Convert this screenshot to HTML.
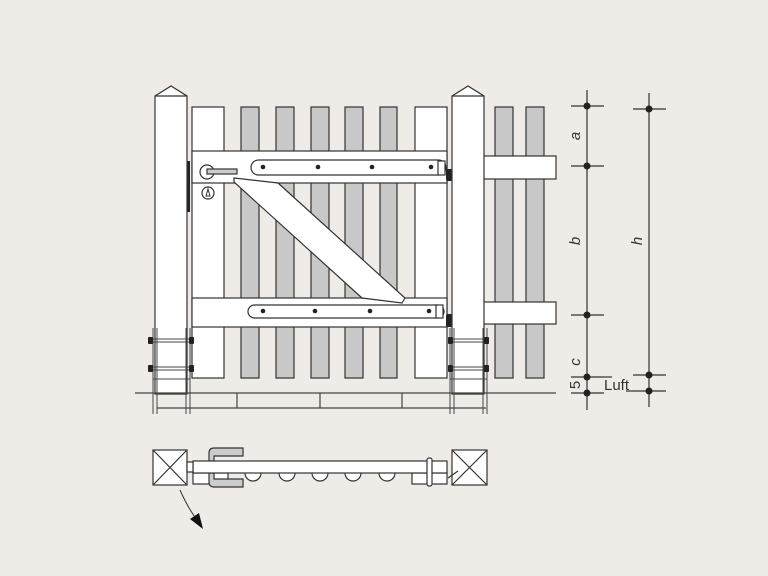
<!DOCTYPE html>
<html><head><meta charset="utf-8"><style>
html,body{margin:0;padding:0;background:#efece7;}
svg{display:block}
text{font-family:"Liberation Sans",sans-serif;fill:#333;}
</style></head><body>
<svg width="768" height="576" viewBox="0 0 768 576" xmlns="http://www.w3.org/2000/svg">
<rect width="768" height="576" fill="#efece7"/>
<g stroke="#333" stroke-width="1.2">
<!-- right fence pickets -->
<rect x="495" y="107" width="18" height="271" fill="#c8c8c8"/>
<rect x="526" y="107" width="18" height="271" fill="#c8c8c8"/>
<rect x="483" y="156" width="73" height="23" fill="#fff"/>
<rect x="483" y="302" width="73" height="22" fill="#fff"/>
<!-- gate pickets -->
<rect x="192" y="107" width="32" height="271" fill="#fff"/>
<rect x="241" y="107" width="18" height="271" fill="#c8c8c8"/>
<rect x="276" y="107" width="18" height="271" fill="#c8c8c8"/>
<rect x="311" y="107" width="18" height="271" fill="#c8c8c8"/>
<rect x="345" y="107" width="18" height="271" fill="#c8c8c8"/>
<rect x="380" y="107" width="17" height="271" fill="#c8c8c8"/>
<rect x="415" y="107" width="32" height="271" fill="#fff"/>
<!-- rails -->
<rect x="192" y="151" width="255" height="32" fill="#fff"/>
<rect x="192" y="298" width="255" height="29" fill="#fff"/>
<!-- brace -->
<polygon points="234,178 278,183 405,298 402,303 362,298 234,182" fill="#fff"/>
<!-- hinges -->
<rect x="251" y="160" width="195" height="15" rx="7.5" fill="#fff"/>
<rect x="248" y="305" width="196" height="13" rx="6.5" fill="#fff"/>
<rect x="438" y="161" width="7" height="14" fill="#fff"/>
<rect x="436" y="305" width="7" height="13" fill="#fff"/>
</g>
<g fill="#222">
<circle cx="263" cy="167" r="2.3"/><circle cx="318" cy="167" r="2.3"/><circle cx="372" cy="167" r="2.3"/><circle cx="431" cy="167" r="2.3"/>
<circle cx="263" cy="311" r="2.3"/><circle cx="315" cy="311" r="2.3"/><circle cx="370" cy="311" r="2.3"/><circle cx="429" cy="311" r="2.3"/>
<rect x="446" y="169" width="7" height="12" rx="2"/>
<rect x="446" y="314" width="7" height="13" rx="2"/>
<rect x="186" y="161" width="4" height="51"/>
</g>
<!-- handle -->
<g stroke="#333" stroke-width="1.2">
<circle cx="207" cy="172" r="7" fill="#fff"/>
<rect x="207" y="169" width="30" height="5" fill="#ccc"/>
<circle cx="208" cy="193" r="6" fill="#fff"/>
</g>
<path d="M206 196 L208 189 L210 196 Z" fill="none" stroke="#333"/>
<!-- posts -->
<g stroke="#333" stroke-width="1.2" fill="#fff">
<polygon points="155,96 171,86 187,96 187,394 155,394"/>
<polygon points="452,96 468,86 484,96 484,394 452,394"/>
<line x1="155" y1="96" x2="187" y2="96"/><line x1="452" y1="96" x2="484" y2="96"/>
</g>
<!-- post frames -->
<g stroke="#444" stroke-width="1" fill="none">
<line x1="153" y1="328" x2="153" y2="414"/><line x1="157" y1="328" x2="157" y2="414"/>
<line x1="186" y1="328" x2="186" y2="414"/><line x1="190" y1="328" x2="190" y2="414"/>
<line x1="450" y1="328" x2="450" y2="414"/><line x1="454" y1="328" x2="454" y2="414"/>
<line x1="483" y1="328" x2="483" y2="414"/><line x1="487" y1="328" x2="487" y2="414"/>
<line x1="151" y1="339" x2="192" y2="339"/><line x1="151" y1="342" x2="192" y2="342"/>
<line x1="151" y1="367" x2="192" y2="367"/><line x1="151" y1="370" x2="192" y2="370"/>
<line x1="153" y1="379" x2="190" y2="379"/>
<line x1="448" y1="339" x2="489" y2="339"/><line x1="448" y1="342" x2="489" y2="342"/>
<line x1="448" y1="367" x2="489" y2="367"/><line x1="448" y1="370" x2="489" y2="370"/>
<line x1="450" y1="379" x2="487" y2="379"/>
</g>
<g fill="#222">
<rect x="148" y="337" width="5" height="7" rx="1"/><rect x="189" y="337" width="5" height="7" rx="1"/>
<rect x="148" y="365" width="5" height="7" rx="1"/><rect x="189" y="365" width="5" height="7" rx="1"/>
<rect x="448" y="337" width="5" height="7" rx="1"/><rect x="484" y="337" width="5" height="7" rx="1"/>
<rect x="448" y="365" width="5" height="7" rx="1"/><rect x="484" y="365" width="5" height="7" rx="1"/>
</g>
<!-- ground -->
<g stroke="#444" stroke-width="1.2">
<line x1="135" y1="393" x2="556" y2="393"/>
<line x1="157" y1="408" x2="486" y2="408"/>
<line x1="237" y1="393" x2="237" y2="408"/><line x1="320" y1="393" x2="320" y2="408"/><line x1="402" y1="393" x2="402" y2="408"/>
</g>
<!-- dimensions -->
<g stroke="#333" stroke-width="1.2">
<line x1="587" y1="90" x2="587" y2="410"/>
<line x1="571" y1="106" x2="604" y2="106"/><line x1="571" y1="166" x2="604" y2="166"/>
<line x1="571" y1="315" x2="604" y2="315"/><line x1="571" y1="377" x2="604" y2="377"/><line x1="571" y1="393" x2="604" y2="393"/>
<line x1="649" y1="93" x2="649" y2="407"/>
<line x1="633" y1="109" x2="666" y2="109"/><line x1="633" y1="375" x2="666" y2="375"/><line x1="633" y1="391" x2="666" y2="391"/>
<line x1="604" y1="377" x2="612" y2="377"/><line x1="633" y1="391" x2="626" y2="391"/>
</g>
<g fill="#222">
<circle cx="587" cy="106" r="3.5"/><circle cx="587" cy="166" r="3.5"/><circle cx="587" cy="315" r="3.5"/><circle cx="587" cy="377" r="3.5"/><circle cx="587" cy="393" r="3.5"/>
<circle cx="649" cy="109" r="3.5"/><circle cx="649" cy="375" r="3.5"/><circle cx="649" cy="391" r="3.5"/>
</g>
<g font-size="15" font-style="italic">
<text transform="translate(580,136) rotate(-90)" text-anchor="middle">a</text>
<text transform="translate(580,241) rotate(-90)" text-anchor="middle">b</text>
<text transform="translate(580,362) rotate(-90)" text-anchor="middle">c</text>
<text transform="translate(642,241) rotate(-90)" text-anchor="middle">h</text>
</g>
<text transform="translate(580,385) rotate(-90)" text-anchor="middle" font-size="15">5</text>
<text x="604" y="390" font-size="15">Luft</text>
<!-- plan view -->
<g stroke="#333" stroke-width="1.2">
<rect x="153" y="450" width="34" height="35" fill="#fff"/>
<line x1="153" y1="450" x2="187" y2="485"/><line x1="187" y1="450" x2="153" y2="485"/>
<rect x="452" y="450" width="35" height="35" fill="#fff"/>
<line x1="452" y1="450" x2="487" y2="485"/><line x1="487" y1="450" x2="452" y2="485"/>
<path d="M245 473 a8 8 0 0 0 16 0 M279 473 a8 8 0 0 0 16 0 M312 473 a8 8 0 0 0 16 0 M345 473 a8 8 0 0 0 16 0 M379 473 a8 8 0 0 0 16 0" fill="#fff"/>
<rect x="193" y="473" width="35" height="11" fill="#fff"/>
<rect x="412" y="473" width="35" height="11" fill="#fff"/>
<path d="M243 448 H214 Q209 448 209 453 V461 H214 V456 H243 Z" fill="#ccc"/>
<path d="M243 487 H214 Q209 487 209 482 V473 H214 V479 H243 Z" fill="#ccc"/>
<rect x="193" y="461" width="254" height="12" fill="#fff"/>
<rect x="187" y="462" width="6" height="10" fill="#fff"/>
<rect x="427" y="458" width="5" height="28" rx="2" fill="#fff"/>
<line x1="448" y1="478" x2="458" y2="471"/>
</g>
<path d="M180 490 Q188 508 197 520" fill="none" stroke="#333" stroke-width="1"/>
<polygon points="190,519 203,529 199,513" fill="#111"/>
</svg>
</body></html>
